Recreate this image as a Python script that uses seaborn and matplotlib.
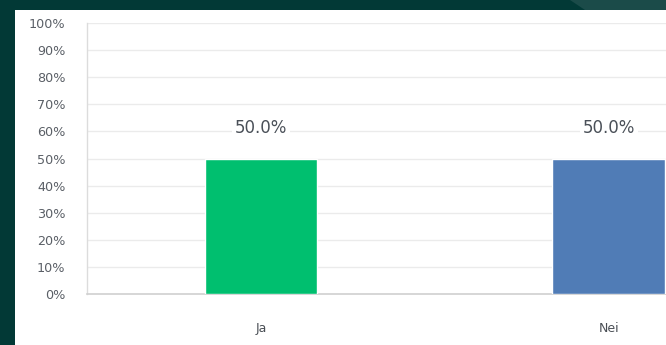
import matplotlib
matplotlib.use("Agg")
import matplotlib.pyplot as plt
from matplotlib.patches import Rectangle, Polygon
import seaborn as sns
import pandas as pd

categories = ["Ja", "Nei"]
values = [50.0, 50.0]
value_labels = ["50.0%", "50.0%"]
y_ticks = [0, 10, 20, 30, 40, 50, 60, 70, 80, 90, 100]
y_tick_labels = [f"{t}%" for t in y_ticks]
colors = ["#00BF6F", "#507CB6"]

sns.set_theme(style="white")
plt.rcParams['font.family'] = ['DejaVu Sans']

W, H = 666, 345
fig = plt.figure(figsize=(W / 100, H / 100), dpi=100)
fig.patch.set_facecolor("#023936")

# white panel and top-right lighter band
fig.patches.append(Rectangle((15 / W, 0), 1, (H - 10) / H, transform=fig.transFigure,
                             facecolor="white", edgecolor="none", zorder=-10))
fig.patches.append(Polygon([(570 / W, 1), (1, 1), (1, (H - 10) / H), (585 / W, (H - 10) / H)],
                           closed=True, transform=fig.transFigure,
                           facecolor="#1B4B49", edgecolor="none", zorder=-9))

ax = fig.add_axes([87 / W, (H - 294) / H, (782.5 - 87) / W, (294 - 23) / H])
ax.set_facecolor("none")

df = pd.DataFrame({"cat": categories, "val": values})
sns.barplot(data=df, x="cat", y="val", hue="cat", palette=colors, width=0.324,
            legend=False, ax=ax, saturation=1, zorder=3)

ax.set_xlim(-0.5, 1.5)
ax.set_ylim(0, 100)
ax.set_yticks(y_ticks)
ax.set_yticklabels(y_tick_labels)
ax.set_xlabel("")
ax.set_ylabel("")
ax.yaxis.grid(True, color="#ebebeb", linewidth=1, zorder=0)
ax.set_axisbelow(True)
ax.tick_params(axis="y", length=0, pad=15.5, labelsize=9.2, labelcolor="#5a5f66")
ax.tick_params(axis="x", length=0, pad=20, labelsize=9, labelcolor="#4a4f55")

for s in ["top", "right"]:
    ax.spines[s].set_visible(False)
ax.spines["left"].set_color("#dcdcdc")
ax.spines["bottom"].set_color("#d0d0d0")
ax.spines["left"].set_linewidth(1)
ax.spines["bottom"].set_linewidth(1.2)

for i, (v, lab) in enumerate(zip(values, value_labels)):
    ax.annotate(lab, (i, v), xytext=(0, 22), textcoords="offset points",
                ha="center", va="center", fontsize=12, color="#4a5058",
                bbox=dict(facecolor="white", edgecolor="none", pad=2), zorder=5)

fig.savefig("out.png", dpi=100, facecolor=fig.get_facecolor())
